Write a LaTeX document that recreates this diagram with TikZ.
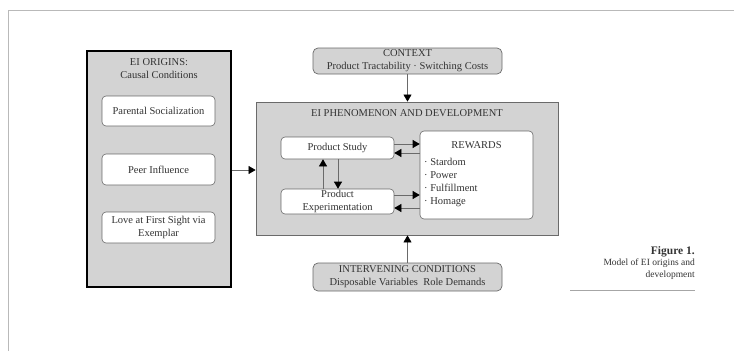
\documentclass[tikz,border=0pt]{standalone}
\usepackage{fontspec}
\setmainfont{Liberation Serif}
\usetikzlibrary{arrows.meta}
\definecolor{boxgray}{HTML}{D3D3D3}
\definecolor{txt}{HTML}{333333}
\definecolor{edge}{HTML}{6A6A6A}
\begin{document}
\begin{tikzpicture}[x=1pt,y=-1pt,
  every node/.style={text=txt,font=\fontsize{10.5}{13}\selectfont},
  bigbox/.style={draw=black,line width=1.6pt,fill=boxgray,inner sep=0pt},
  phenbox/.style={draw=edge,line width=0.8pt,fill=boxgray,inner sep=0pt},
  whitebox/.style={draw=edge,line width=0.6pt,fill=white,rounded corners=4pt,inner sep=0pt,align=center},
  graybox/.style={draw=edge,line width=0.7pt,fill=boxgray,rounded corners=5pt,inner sep=0pt,align=center},
  plain/.style={inner sep=0pt,align=center},
  arr/.style={draw=edge,line width=0.6pt,-{Triangle[length=7pt,width=8pt,color=black]}},
  captext/.style={inner sep=0pt,anchor=east,font=\fontsize{9.5}{11}\selectfont}
]
\useasboundingbox (0,0) rectangle (734,351);
\draw[gray!55,line width=0.8pt] (8,351) -- (8,10) -- (734,10);

% origins
\node[bigbox,minimum width=144pt,minimum height=236pt] (orig) at (159,169) {};
\node[plain] (origt) at (159,68.5) {EI ORIGINS:\\Causal Conditions};
\node[whitebox,minimum width=113pt,minimum height=30pt] (par) at (158.5,111) {Parental Socialization};
\node[whitebox,minimum width=113pt,minimum height=31pt] (peer) at (158.5,169.5) {Peer Influence};
\node[whitebox,minimum width=113pt,minimum height=31pt] (love) at (158.5,227.5) {Love at First Sight via\\Exemplar};

% phenomenon
\node[phenbox,minimum width=302pt,minimum height=133pt] (phen) at (407,168.5) {};
\node[plain] (phent) at (407,113) {EI PHENOMENON AND DEVELOPMENT};
\node[whitebox,minimum width=113pt,minimum height=22pt] (study) at (337.5,148) {Product Study};
\node[whitebox,minimum width=113pt,minimum height=25pt] (exper) at (337.5,201.5) {Product\\Experimentation};
\node[whitebox,minimum width=113pt,minimum height=88pt] (rew) at (476.5,175) {};
\node[plain] (rewt) at (476.5,145) {REWARDS};
\node[plain,anchor=west,align=left] (rewl) at (424,182.5) {· Stardom\\· Power\\· Fulfillment\\· Homage};

% context and intervening
\node[graybox,minimum width=189pt,minimum height=26pt] (ctx) at (407.5,61) {CONTEXT\\Product Tractability · Switching Costs};
\node[graybox,minimum width=189pt,minimum height=28pt] (intv) at (407.5,277) {INTERVENING CONDITIONS\\Disposable Variables\ \ Role Demands};

% arrows
\draw[arr] (orig.east |- 0,170) -- (phen.west |- 0,170);
\draw[arr] (ctx.south) -- (ctx.south |- phen.north);
\draw[arr] (intv.north) -- (intv.north |- phen.south);
\draw[arr] (study.east |- 0,144) -- (rew.west |- 0,144);
\draw[arr] (rew.west |- 0,153) -- (study.east |- 0,153);
\draw[arr] (exper.east |- 0,195) -- (rew.west |- 0,195);
\draw[arr] (rew.west |- 0,208) -- (exper.east |- 0,208);
\draw[arr] (exper.north -| 323,0) -- (study.south -| 323,0);
\draw[arr] (study.south -| 338,0) -- (exper.north -| 338,0);

% caption
\node[captext,font=\bfseries\fontsize{11.5}{13}\selectfont] (fig) at (695,252) {Figure 1.};
\node[captext] (cap1) at (695,263.5) {Model of EI origins and};
\node[captext] (cap2) at (695,275) {development};
\coordinate (rl) at (570,290);
\coordinate (rr) at (695,290);
\draw[gray!70,line width=0.6pt] (rl) -- (rr);
\end{tikzpicture}
\end{document}
